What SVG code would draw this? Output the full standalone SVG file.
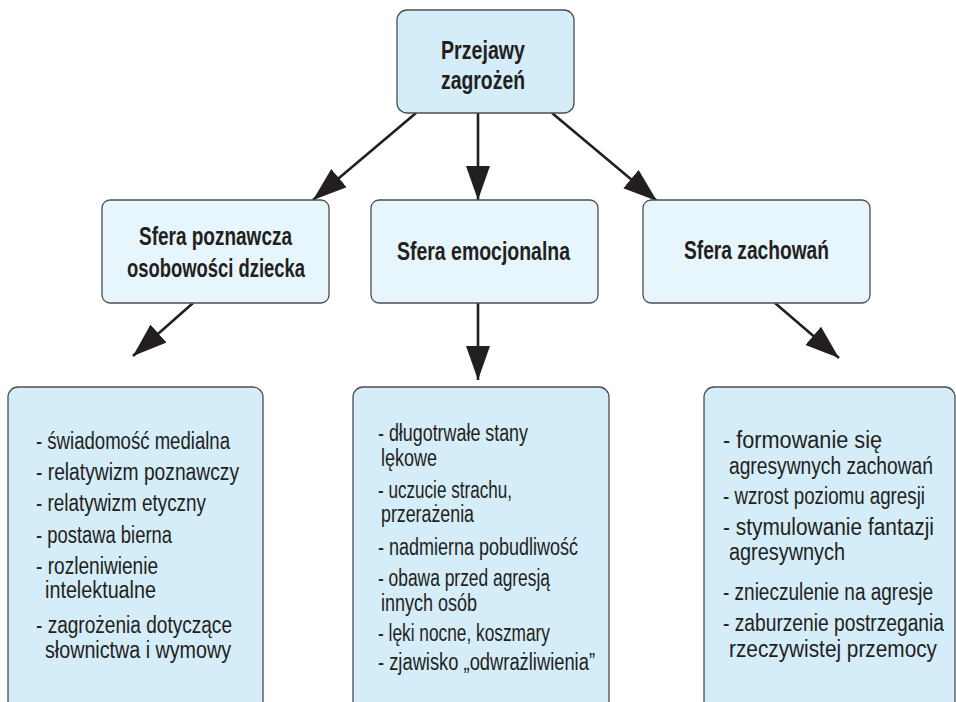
<svg xmlns="http://www.w3.org/2000/svg" width="956" height="702" viewBox="0 0 956 702">
  <style>
    .box-main { fill: #d5ecf9; stroke: #4d4d4d; stroke-width: 1.3; }
    .box-sphere { fill: #e7f5fc; stroke: #4d4d4d; stroke-width: 1.3; }
    .box-list { fill: #d5ecf9; stroke: #4d4d4d; stroke-width: 1.3; }
    .head { font-family: "Liberation Sans", "DejaVu Sans", sans-serif; font-weight: bold; font-size: 25px; fill: #231f20; text-anchor: middle; }
    .item { font-family: "Liberation Sans", "DejaVu Sans", sans-serif; font-size: 23px; fill: #231f20; }
    .conn { stroke: #231f20; stroke-width: 2.6; fill: none; marker-end: url(#head); }
  </style>
  <defs>
    <marker id="head" markerUnits="userSpaceOnUse" markerWidth="36" markerHeight="26" refX="34" refY="12" orient="auto">
      <path d="M0,0 L34,12 L0,24 Z" fill="#231f20"/>
    </marker>
  </defs>

  <rect width="956" height="702" fill="#ffffff"/>

  <!-- connectors -->
  <g id="connectors">
    <line class="conn" x1="416" y1="113" x2="313" y2="200"/>
    <line class="conn" x1="478" y1="113" x2="478" y2="200"/>
    <line class="conn" x1="552" y1="113" x2="657" y2="201"/>
    <line class="conn" x1="193" y1="303" x2="133" y2="356"/>
    <line class="conn" x1="478" y1="303" x2="478" y2="380"/>
    <line class="conn" x1="775" y1="303" x2="839" y2="358"/>
  </g>

  <!-- root node -->
  <g id="przejawy">
    <rect class="box-main" x="397" y="10" width="177" height="103" rx="10"/>
    <text class="head" x="483" y="59" textLength="84" lengthAdjust="spacingAndGlyphs">Przejawy</text>
    <text class="head" x="483" y="89" textLength="84" lengthAdjust="spacingAndGlyphs">zagrożeń</text>
  </g>

  <!-- spheres -->
  <g id="sfera-poznawcza">
    <rect class="box-sphere" x="102" y="200" width="227" height="103" rx="8"/>
    <text class="head" x="215.5" y="245" textLength="153" lengthAdjust="spacingAndGlyphs">Sfera poznawcza</text>
    <text class="head" x="216" y="277" textLength="178" lengthAdjust="spacingAndGlyphs">osobowości dziecka</text>
  </g>
  <g id="sfera-emocjonalna">
    <rect class="box-sphere" x="371" y="200" width="227" height="103" rx="8"/>
    <text class="head" x="483.5" y="260" textLength="173" lengthAdjust="spacingAndGlyphs">Sfera emocjonalna</text>
  </g>
  <g id="sfera-zachowan">
    <rect class="box-sphere" x="643" y="200" width="227" height="103" rx="8"/>
    <text class="head" x="756.5" y="259" textLength="145" lengthAdjust="spacingAndGlyphs">Sfera zachowań</text>
  </g>

  <!-- lists -->
  <g id="lista-poznawcza">
    <rect class="box-list" x="8" y="387" width="255" height="325" rx="10"/>
    <text class="item" x="36" y="449" textLength="194" lengthAdjust="spacingAndGlyphs">- świadomość medialna</text>
    <text class="item" x="36" y="480" textLength="203" lengthAdjust="spacingAndGlyphs">- relatywizm poznawczy</text>
    <text class="item" x="36" y="511" textLength="170" lengthAdjust="spacingAndGlyphs">- relatywizm etyczny</text>
    <text class="item" x="36" y="543" textLength="136" lengthAdjust="spacingAndGlyphs">- postawa bierna</text>
    <text class="item" x="36" y="574" textLength="122" lengthAdjust="spacingAndGlyphs">- rozleniwienie</text>
    <text class="item" x="45" y="598" textLength="111" lengthAdjust="spacingAndGlyphs">intelektualne</text>
    <text class="item" x="36" y="633" textLength="196" lengthAdjust="spacingAndGlyphs">- zagrożenia dotyczące</text>
    <text class="item" x="45" y="658" textLength="186" lengthAdjust="spacingAndGlyphs">słownictwa i wymowy</text>
  </g>
  <g id="lista-emocjonalna">
    <rect class="box-list" x="353" y="387" width="256" height="325" rx="10"/>
    <text class="item" x="378" y="441" textLength="150" lengthAdjust="spacingAndGlyphs">- długotrwałe stany</text>
    <text class="item" x="381" y="466" textLength="56" lengthAdjust="spacingAndGlyphs">lękowe</text>
    <text class="item" x="378" y="498" textLength="134" lengthAdjust="spacingAndGlyphs">- uczucie strachu,</text>
    <text class="item" x="381" y="522" textLength="93" lengthAdjust="spacingAndGlyphs">przerażenia</text>
    <text class="item" x="378" y="555" textLength="200" lengthAdjust="spacingAndGlyphs">- nadmierna pobudliwość</text>
    <text class="item" x="378" y="586" textLength="172" lengthAdjust="spacingAndGlyphs">- obawa przed agresją</text>
    <text class="item" x="381" y="611" textLength="96" lengthAdjust="spacingAndGlyphs">innych osób</text>
    <text class="item" x="378" y="641" textLength="172" lengthAdjust="spacingAndGlyphs">- lęki nocne, koszmary</text>
    <text class="item" x="378" y="670" textLength="217" lengthAdjust="spacingAndGlyphs">- zjawisko „odwrażliwienia”</text>
  </g>
  <g id="lista-zachowan">
    <rect class="box-list" x="704" y="387" width="251" height="325" rx="10"/>
    <!-- narrowed text block so the long lines stay inside the right margin -->
    <g transform="translate(723,0) scale(0.82,1)">
      <text class="item" x="0" y="448" textLength="193.9" lengthAdjust="spacingAndGlyphs">-  formowanie się</text>
      <text class="item" x="7.3" y="474" textLength="248.8" lengthAdjust="spacingAndGlyphs">agresywnych zachowań</text>
      <text class="item" x="0" y="504" textLength="246.3" lengthAdjust="spacingAndGlyphs">- wzrost poziomu agresji</text>
      <text class="item" x="0" y="535" textLength="257.3" lengthAdjust="spacingAndGlyphs">- stymulowanie fantazji</text>
      <text class="item" x="7.3" y="560" textLength="141.5" lengthAdjust="spacingAndGlyphs">agresywnych</text>
      <text class="item" x="0" y="600" textLength="256.1" lengthAdjust="spacingAndGlyphs">- znieczulenie na agresje</text>
      <text class="item" x="0" y="631" textLength="269.5" lengthAdjust="spacingAndGlyphs">- zaburzenie postrzegania</text>
      <text class="item" x="7.3" y="657" textLength="253.7" lengthAdjust="spacingAndGlyphs">rzeczywistej przemocy</text>
    </g>
  </g>
</svg>
